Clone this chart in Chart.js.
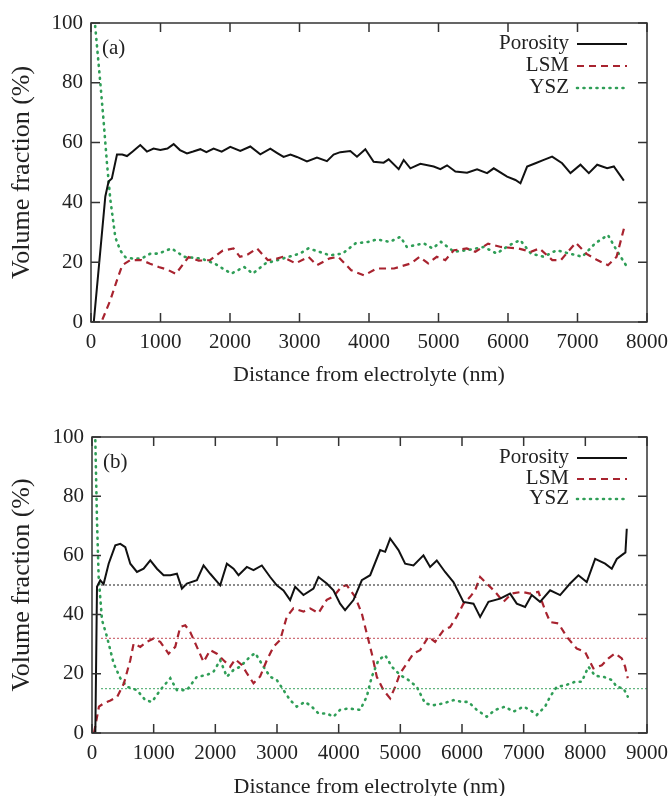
<!DOCTYPE html>
<html>
<head>
<meta charset="utf-8">
<script src="https://cdn.jsdelivr.net/npm/chart.js@4.4.1/dist/chart.umd.min.js"></script>
<style>
html, body { margin: 0; padding: 0; background: #fff; overflow: hidden; }
.panel { position: absolute; left: 0; width: 671px; height: 400px; }
#wa { top: 0; }
#wb { top: 400px; }
</style>
</head>
<body>
<div class="panel" id="wa"><canvas id="ca"></canvas></div>
<div class="panel" id="wb"><canvas id="cb"></canvas></div>
<script>
// panel (a) - [distance nm, volume %]
var porosityA = [[40,0],[206,42],[253,47],[300,48],[374,56],[450,56],[518,55.5],[600,57],[709,59.2],[805,57],[900,58],[997,57.5],[1100,58],[1189,59.5],[1280,57.5],[1381,56.4],[1470,57],[1573,57.8],[1660,56.8],[1764,58],[1880,57],[2004,58.6],[2148,57.2],[2292,58.7],[2436,56.1],[2580,58],[2680,56.5],[2771,55.2],[2870,56],[2963,55.2],[3107,53.7],[3251,55],[3395,53.8],[3490,56],[3587,56.8],[3731,57.2],[3827,55.3],[3947,57.8],[4067,53.6],[4211,53.3],[4283,54.4],[4427,51.1],[4499,54.2],[4595,51.4],[4739,52.9],[4931,52],[5027,51.1],[5123,52.4],[5243,50.3],[5411,49.9],[5555,51.1],[5699,49.8],[5795,51.4],[5987,48.6],[6107,47.5],[6179,46.4],[6275,52],[6395,53.1],[6515,54.2],[6635,55.3],[6779,53.1],[6899,49.8],[7043,52.6],[7163,49.8],[7283,52.6],[7427,51.4],[7523,52],[7667,47.3]];
var lsmA = [[20,0],[80,-0.5],[150,0],[278,7.3],[374,14],[450,19],[566,20.7],[727,20.7],[850,19.5],[973,18.4],[1100,17.5],[1219,16.1],[1404,21.7],[1550,20.5],[1712,20.7],[1896,23.9],[2050,24.6],[2143,21.8],[2250,22.5],[2389,24.6],[2543,20.7],[2650,21],[2758,21.8],[2943,19.6],[3128,21.8],[3250,19],[3436,21.3],[3558,21.8],[3744,17.3],[3928,15.6],[4113,17.9],[4360,17.9],[4606,19.6],[4728,21.8],[4852,19.6],[4975,21.8],[5098,20.7],[5222,24],[5406,24.6],[5530,23.5],[5714,26.2],[5898,25.1],[6145,24.6],[6329,23.5],[6453,24.6],[6637,20.7],[6760,20.7],[6976,26.5],[7130,22.8],[7284,20.7],[7438,19],[7562,21.8],[7680,32.3]];
var yszA = [[60,99],[134,80],[182,67],[230,53],[278,41],[350,28.3],[422,23.9],[494,21.7],[600,21.2],[727,21.2],[850,22.8],[973,22.9],[1158,24.6],[1342,21.8],[1589,21.2],[1773,19.6],[2019,16.2],[2204,18.4],[2328,16.2],[2512,19.6],[2758,21.2],[3005,22.9],[3128,24.6],[3280,23.5],[3436,22.3],[3620,22.9],[3806,26.3],[3990,26.8],[4113,27.6],[4298,26.8],[4452,28.5],[4544,25.1],[4790,26.3],[4913,24.6],[5036,26.8],[5222,23.5],[5406,24],[5652,25.1],[5837,22.9],[6021,25.7],[6176,27.4],[6329,22.9],[6514,21.8],[6699,24],[6883,22.9],[7069,21.8],[7253,26.3],[7438,29.1],[7562,24],[7697,19]];

// panel (b)
var porosityB = [[10,0],[54,0],[81,49.4],[134,51.6],[188,50.3],[270,57.2],[378,63.4],[459,63.9],[540,62.8],[621,57.2],[729,54.4],[837,55.5],[945,58.3],[1053,55.5],[1161,53.3],[1269,53.3],[1377,53.8],[1458,48.8],[1539,50.5],[1701,51.6],[1809,56.6],[1917,53.8],[2079,49.9],[2187,57.2],[2295,55.5],[2376,53.3],[2511,56.1],[2619,55],[2754,56.6],[2889,52.7],[2997,49.9],[3105,48.2],[3213,44.9],[3294,49.4],[3429,46.6],[3591,48.8],[3672,52.7],[3807,50.5],[3915,48.2],[4023,43.7],[4104,41.5],[4240,44.9],[4375,51.6],[4511,53.3],[4673,61.8],[4754,61.2],[4835,65.7],[4970,61.8],[5078,57.2],[5213,56.6],[5375,60],[5483,56.1],[5591,58.3],[5726,54.4],[5861,51],[6023,44.3],[6186,43.7],[6294,39.2],[6429,44.3],[6618,45.4],[6780,47.1],[6888,43.7],[7023,42.6],[7131,46.6],[7266,44.3],[7429,48.2],[7591,46.6],[7753,50.5],[7888,53.3],[8023,51],[8159,58.8],[8321,57.2],[8429,55.5],[8510,58.8],[8618,60.5],[8650,61],[8672,69]];
var lsmB = [[32,0],[113,8.9],[194,10.1],[300,11],[410,12.3],[518,16.8],[621,24.6],[675,30.2],[783,29.1],[891,30.8],[999,31.9],[1107,30.8],[1242,26.8],[1350,29.1],[1431,35.8],[1512,36.4],[1593,34.1],[1701,29.1],[1809,24],[1917,28],[2025,26.8],[2133,24.6],[2241,22.4],[2322,24.9],[2430,23],[2511,20.2],[2619,16.8],[2727,19.1],[2835,24.6],[2943,29.1],[3051,31.4],[3159,39.3],[3267,42.1],[3429,41],[3537,42.1],[3672,40.5],[3807,45],[3915,46.1],[4050,49.5],[4132,49.9],[4267,46],[4375,40.4],[4456,33.6],[4537,26.9],[4618,19],[4726,14.5],[4835,11.7],[4916,15.6],[4997,20.2],[5105,23.5],[5213,26.9],[5321,28],[5456,32.5],[5564,30.8],[5699,34.7],[5807,35.8],[5915,39.3],[6023,43.7],[6132,46],[6213,48.2],[6294,52.7],[6402,50.5],[6537,47.7],[6672,44.3],[6807,47.1],[6969,47.7],[7104,47.1],[7239,47.7],[7347,41.5],[7429,37.5],[7564,37],[7699,32.5],[7861,28.5],[7996,27.4],[8131,21.8],[8267,22.9],[8375,25.2],[8483,26.9],[8591,25.2],[8645,22.4],[8688,18.5]];
var yszB = [[54,98.9],[81,71.8],[108,52.7],[162,38.2],[243,32.5],[351,23.5],[459,18.5],[567,15.6],[729,14.5],[864,11.1],[972,10.5],[1107,14.5],[1269,18.5],[1377,14.5],[1539,14.5],[1701,19],[1863,19.6],[1971,20.7],[2079,24.6],[2187,19],[2295,21.3],[2403,22.4],[2565,25.8],[2646,27],[2781,22.4],[2889,19],[2997,17.9],[3105,14.5],[3213,11.1],[3321,8.9],[3456,10.5],[3564,8.9],[3672,6.6],[3807,6.6],[3915,5.5],[4023,7.8],[4158,8.3],[4348,7.8],[4456,12.3],[4537,19],[4645,24.6],[4754,26.3],[4862,22.4],[4997,19.6],[5132,17.9],[5267,15.6],[5402,10],[5537,9.4],[5699,10],[5861,11.1],[5996,10.5],[6105,10.5],[6240,7.8],[6402,5.5],[6537,7.8],[6699,8.9],[6834,7.2],[6996,8.9],[7104,7.8],[7212,6.1],[7347,8.9],[7429,12.3],[7537,15.6],[7672,16.1],[7834,17.3],[7942,17.3],[8050,22.4],[8159,19.3],[8294,19],[8429,17.9],[8510,15.6],[8618,15.1],[8688,12.3]];

// mean levels drawn as thin dotted lines in (b)
var meanLevelsB = [50, 32, 15];
var meanStartB = 150;

var seriesNames = ['Porosity', 'LSM', 'YSZ'];
var seriesColors = ['#111111', '#a8232f', '#2f9e57'];
var meanColors = ['#333333', '#c0404c', '#2f9e57'];

var FONT = '"Liberation Serif", "Times New Roman", serif';
var INK = '#222';

function toPts(arr) {
    return arr.map(function(p) { return {x: p[0], y: p[1]}; });
}

function frame(o) {
    return {
        id: 'frame' + o.tag,
        afterDatasetsDraw: function(chart) {
            var ctx = chart.ctx, a = chart.chartArea;
            var sx = chart.scales.x, sy = chart.scales.y;
            ctx.save();
            ctx.strokeStyle = '#333';
            ctx.lineWidth = 1.5;
            ctx.strokeRect(a.left, a.top, a.right - a.left, a.bottom - a.top);
            ctx.beginPath();
            sx.ticks.forEach(function(t) {
                var px = sx.getPixelForValue(t.value);
                ctx.moveTo(px, a.bottom); ctx.lineTo(px, a.bottom - 9);
                ctx.moveTo(px, a.top); ctx.lineTo(px, a.top + 9);
            });
            sy.ticks.forEach(function(t) {
                var py = sy.getPixelForValue(t.value);
                ctx.moveTo(a.left, py); ctx.lineTo(a.left + 9, py);
                ctx.moveTo(a.right, py); ctx.lineTo(a.right - 9, py);
            });
            ctx.stroke();

            // panel tag
            ctx.fillStyle = INK;
            ctx.font = '21px ' + FONT;
            ctx.textBaseline = 'middle';
            ctx.textAlign = 'left';
            ctx.fillText(o.tag, a.left + 11, o.tagY);

            // legend: text right-aligned, then line sample
            var ds = chart.data.datasets.filter(function(d) { return d.inLegend; });
            ds.forEach(function(d, i) {
                var y = o.legY[i];
                ctx.fillStyle = INK;
                ctx.textAlign = 'right';
                ctx.fillText(d.label, 569, y);
                ctx.beginPath();
                ctx.strokeStyle = d.borderColor;
                ctx.lineWidth = d.borderWidth;
                ctx.setLineDash(d.borderDash || []);
                ctx.lineCap = d.borderCapStyle || 'butt';
                ctx.moveTo(577, y + 1); ctx.lineTo(627, y + 1);
                ctx.stroke();
            });
            ctx.restore();
        }
    };
}

function makeChart(id, o) {
    var datasets = [];
    if (o.means) {
        o.means.forEach(function(v, i) {
            datasets.push({
                label: 'mean',
                data: [{x: meanStartB, y: v}, {x: o.xMax, y: v}],
                borderColor: meanColors[i], borderWidth: 1.3, borderDash: [1.5, 2.5],
                pointRadius: 0
            });
        });
    }
    var styles = [
        {borderWidth: 2, borderDash: []},
        {borderWidth: 2.2, borderDash: [7, 5]},
        {borderWidth: 2.6, borderDash: [1, 5.5], borderCapStyle: 'round'}
    ];
    o.series.forEach(function(s, i) {
        datasets.push(Object.assign({
            label: seriesNames[i],
            data: toPts(s),
            borderColor: seriesColors[i],
            pointRadius: 0,
            tension: 0,
            inLegend: true
        }, styles[i]));
    });

    new Chart(document.getElementById(id), {
        type: 'line',
        data: {datasets: datasets},
        options: {
            responsive: true,
            maintainAspectRatio: false,
            animation: false,
            layout: {padding: {left: 0, right: 24, top: o.top, bottom: 0}},
            plugins: {legend: {display: false}, tooltip: {enabled: false}},
            scales: {
                x: {
                    type: 'linear', min: 0, max: o.xMax,
                    ticks: {stepSize: 1000, padding: o.xTickPad, color: INK, maxRotation: 0, autoSkip: false,
                        font: {family: FONT, size: 21}, callback: function(v) { return String(v); }},
                    grid: {display: false, drawTicks: false},
                    border: {display: false},
                    title: {display: true, text: 'Distance from electrolyte (nm)', color: INK,
                        font: {family: FONT, size: 22}, padding: {top: 0, bottom: o.titlePad}},
                    afterFit: function(s) { s.height = o.xH; s.paddingRight = 0; s.paddingLeft = 0; }
                },
                y: {
                    min: 0, max: 100,
                    ticks: {stepSize: 20, padding: 8, color: INK, font: {family: FONT, size: 21}},
                    grid: {display: false, drawTicks: false},
                    border: {display: false},
                    title: {display: true, text: 'Volume fraction (%)', color: INK,
                        font: {family: FONT, size: 26}, padding: {top: 7, bottom: 0}},
                    afterFit: function(s) { s.width = o.yW; s.paddingTop = 0; s.paddingBottom = 0; }
                }
            }
        },
        plugins: [frame(o)]
    });
}

makeChart('ca', {
    tag: '(a)', tagY: 48, legY: [43, 65, 87],
    series: [porosityA, lsmA, yszA],
    xMax: 8000, top: 23, xH: 78, yW: 91, xTickPad: 8, titlePad: 12
});
makeChart('cb', {
    tag: '(b)', tagY: 62, legY: [57, 78, 98],
    series: [porosityB, lsmB, yszB], means: meanLevelsB,
    xMax: 9000, top: 37, xH: 67, yW: 92, xTickPad: 8, titlePad: 0
});
</script>
</body>
</html>
